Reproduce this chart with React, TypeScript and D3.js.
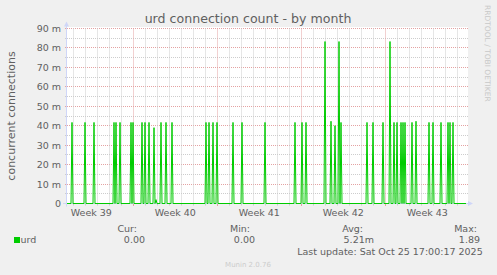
import React from 'react';
import * as d3 from 'd3';

// ---------- data ----------
const HOUR = 3600 * 1000;
const startTime = Date.UTC(2025, 8, 22, 11, 24);
const binHours = 2;
const binCount = 400;
const endTime = startTime + binCount * binHours * HOUR;

// 2-hour bins (since start) that carry a non-zero value
const spikeBins = [
  5, 18, 27, 47, 49, 53, 64, 66, 75, 78, 82, 87, 89, 94, 99, 105,
  139, 142, 146, 150, 166, 175, 198, 228, 235, 239, 258, 264, 268, 272, 274,
  300, 306, 316, 323, 327, 330, 334, 336, 338, 345, 349, 362, 366, 374, 381, 383, 386,
];
const spikeValues = [
  0.0417, 0.0417, 0.0417, 0.0417, 0.0417, 0.0417, 0.0417, 0.0417, 0.0417, 0.0417, 0.0417, 0.039, 0.002, 0.0417, 0.0417, 0.0417,
  0.0417, 0.0417, 0.0417, 0.0417, 0.0417, 0.0417, 0.0417, 0.0417, 0.0417, 0.0417, 0.0833, 0.0423, 0.040, 0.0833, 0.0417,
  0.0417, 0.0417, 0.0417, 0.0833, 0.0417, 0.0417, 0.0417, 0.0417, 0.0417, 0.0417, 0.0423, 0.0417, 0.0417, 0.0417, 0.0417, 0.0417, 0.0417,
];

const yMajorTicks = [0, 0.01, 0.02, 0.03, 0.04, 0.05, 0.06, 0.07, 0.08, 0.09];
const yTickLabels = ['0', '10 m', '20 m', '30 m', '40 m', '50 m', '60 m', '70 m', '80 m', '90 m'];
const yMinorTicks = [0.005, 0.015, 0.025, 0.035, 0.045, 0.055, 0.065, 0.075, 0.085];

const weekStarts = ['2025-09-21', '2025-09-28', '2025-10-05', '2025-10-12', '2025-10-19', '2025-10-26'];
const weekLabels = ['Week 39', 'Week 40', 'Week 41', 'Week 42', 'Week 43'];

const legendHeads = ['Cur:', 'Min:', 'Avg:', 'Max:'];
const legendValues = ['0.00', '0.00', '5.21m', '1.89'];
const seriesName = 'urd';
const titleText = 'urd connection count - by month';
const yTitle = 'concurrent connections';
const lastUpdate = 'Last update: Sat Oct 25 17:00:17 2025';
const muninVersion = 'Munin 2.0.76';
const watermark = 'RRDTOOL / TOBI OETIKER';

// ---------- layout ----------
const W = 497, H = 275;
const X0 = 67, X1 = 467, Y0 = 203.5, Y1 = 28.5;
const FONT = "'DejaVu Sans', sans-serif";
const TXT = '#606060';
const GREEN = '#00cc00';
const AXIS = '#CFD6F8';
const MINOR = '#cdcdcd';
const MAJOR = '#e4a2a2';

const crisp = (v: number) => Math.round(v - 0.5) + 0.5;

export default function App() {
  const x = d3.scaleUtc().domain([startTime, endTime]).range([X0, X1]);
  const y = d3.scaleLinear().domain([0, 0.09]).range([Y0, Y1]);

  const series: number[] = new Array(binCount).fill(0);
  spikeBins.forEach((b, i) => { series[b] = spikeValues[i]; });
  const line = d3.line<number>()
    .x((_, i) => x(startTime + i * binHours * HOUR))
    .y(d => y(d));

  const days = d3.utcDay.range(new Date(startTime), new Date(endTime));
  const majors = weekStarts.map(s => new Date(s + 'T00:00:00Z')).filter(d => +d >= startTime && +d <= endTime);
  const majorSet = new Set(majors.map(d => +d));

  const legendHeadRight = [137, 250, 363, 477];
  const legendValRight = [145, 255, 374, 480];

  return (
    <svg width={W} height={H} style={{ position: 'absolute', left: 0, top: 0, display: 'block' }}
      fontFamily={FONT}>
      <rect x={0} y={0} width={W} height={H} fill="#f0f0f0" />
      <rect x={X0} y={27} width={X1 - X0 + 1} height={Y0 - 27} fill="#ffffff" />

      {/* horizontal grid */}
      {yMinorTicks.map((v, i) => (
        <g key={'hm' + i}>
          <line x1={X0} x2={X1 + 1} y1={crisp(y(v))} y2={crisp(y(v))} stroke={MINOR} strokeDasharray="1,1" />
          <line x1={X0 - 2} x2={X0} y1={crisp(y(v))} y2={crisp(y(v))} stroke={MINOR} />
        </g>
      ))}
      {yMajorTicks.map((v, i) => (
        <g key={'hM' + i}>
          <line x1={X0} x2={X1 + 1} y1={crisp(y(v))} y2={crisp(y(v))} stroke={MAJOR} strokeDasharray="1,1" />
          <line x1={X0 - 2} x2={X0} y1={crisp(y(v))} y2={crisp(y(v))} stroke={MAJOR} />
        </g>
      ))}

      {/* vertical grid */}
      {days.filter(d => !majorSet.has(+d)).map((d, i) => (
        <g key={'vm' + i}>
          <line x1={crisp(x(d))} x2={crisp(x(d))} y1={Y1} y2={Y0} stroke={MINOR} strokeDasharray="1,1" />
          <line x1={crisp(x(d))} x2={crisp(x(d))} y1={Y0} y2={Y0 + 2} stroke={MINOR} />
        </g>
      ))}
      {majors.map((d, i) => (
        <g key={'vM' + i}>
          <line x1={crisp(x(d))} x2={crisp(x(d))} y1={Y1} y2={Y0} stroke={MAJOR} strokeDasharray="1,1" />
          <line x1={crisp(x(d))} x2={crisp(x(d))} y1={Y0} y2={Y0 + 2.5} stroke={MAJOR} />
        </g>
      ))}

      {/* axes */}
      <line x1={X0 - 0.5} x2={X0 - 0.5} y1={Y0 + 3} y2={24} stroke={AXIS} />
      <polygon points={`${X0 - 3},26.5 ${X0 + 2},26.5 ${X0 - 0.5},21.5`} fill={AXIS} />
      <line x1={X0 - 4} x2={X1 + 2} y1={Y0} y2={Y0} stroke={AXIS} />
      <polygon points={`${X1 + 1},${Y0 - 2.5} ${X1 + 1},${Y0 + 2.5} ${X1 + 6},${Y0}`} fill={AXIS} />

      {/* data */}
      <path d={line(series) || ''} fill="none" stroke={GREEN} strokeWidth={1} />

      {/* y tick labels */}
      {yMajorTicks.map((v, i) => (
        <text key={'yl' + i} x={61} y={crisp(y(v)) + 3.5} textAnchor="end" fontSize={9.5} fill={TXT}>{yTickLabels[i]}</text>
      ))}
      {/* x labels */}
      {weekLabels.map((l, i) => {
        const t = +new Date(weekStarts[i] + 'T00:00:00Z') + 3.5 * 24 * HOUR;
        return <text key={'xl' + i} x={x(t)} y={216} textAnchor="middle" fontSize={9.5} fill={TXT}>{l}</text>;
      })}

      {/* titles */}
      <text x={248} y={23} textAnchor="middle" fontSize={12.6} fill={TXT}>{titleText}</text>
      <text transform={`translate(15,${(Y0 + Y1) / 2}) rotate(-90)`} textAnchor="middle" fontSize={11} fill={TXT}>{yTitle}</text>
      <text transform="translate(485,5) rotate(90)" fontSize={7.5} fill="#c8c8c8">{watermark}</text>

      {/* legend */}
      <rect x={14} y={237} width={6} height={6} fill={GREEN} />
      <text x={20.5} y={243} fontSize={9.5} fill={TXT}>{seriesName}</text>
      {legendHeads.map((h, i) => (
        <g key={'lg' + i}>
          <text x={legendHeadRight[i]} y={231.5} textAnchor="end" fontSize={9.5} fill={TXT}>{h}</text>
          <text x={legendValRight[i]} y={243} textAnchor="end" fontSize={9.5} fill={TXT}>{legendValues[i]}</text>
        </g>
      ))}
      <text x={482.7} y={254.5} textAnchor="end" fontSize={9.5} fill={TXT}>{lastUpdate}</text>
      <text x={248} y={267} textAnchor="middle" fontSize={7} fill="#cccccc">{muninVersion}</text>
    </svg>
  );
}
